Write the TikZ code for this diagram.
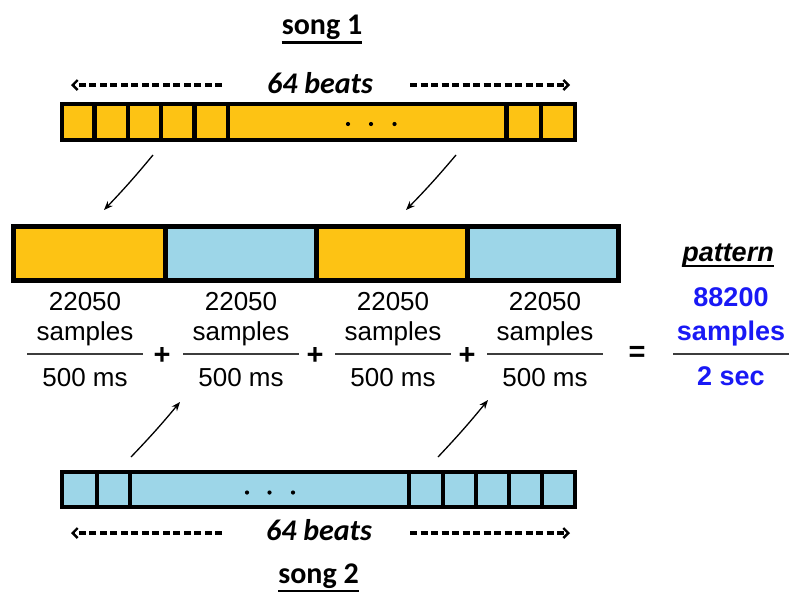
\documentclass[tikz,border=0pt]{standalone}
\usepackage{fontspec}
\setmainfont{Liberation Sans}
\newfontfamily\calib{Carlito}
\usetikzlibrary{arrows.meta}
\definecolor{gold}{RGB}{253,195,20}
\definecolor{sky}{RGB}{157,214,232}
\definecolor{pblue}{RGB}{25,25,245}
\definecolor{fracline}{RGB}{60,60,60}
\begin{document}
\begin{tikzpicture}[x=1pt,y=-1pt,
  barline/.style={draw=black,line width=4.5pt},
  midline/.style={draw=black,line width=5pt},
  songlabel/.style={inner sep=0pt,anchor=base,font=\calib\bfseries\fontsize{30}{34}\selectfont},
  beatlabel/.style={inner sep=0pt,anchor=base,font=\calib\bfseries\itshape\fontsize{30}{34}\selectfont},
  span/.style={line width=3.4pt,dash pattern=on 7pt off 3.5pt,-{Straight Barb[length=5pt,width=10pt,line width=2.4pt]}},
  num/.style={inner sep=0pt,anchor=base,font=\fontsize{26}{30}\selectfont},
  bnum/.style={inner sep=0pt,anchor=base,text=pblue,font=\bfseries\fontsize{27}{30}\selectfont},
  fracbar/.style={draw=fracline,line width=2pt},
  op/.style={inner sep=0pt,font=\bfseries\fontsize{29}{32}\selectfont},
  link/.style={line width=1.3pt,-{Stealth[length=9pt,width=7pt]}},
  uline/.style={line width=2.4pt}]
\useasboundingbox (0,0) rectangle (789,592);

% ---- song 1 ----
\node[songlabel] (s1) at (322,34) {song 1};
\draw[uline] ([yshift=-8.5pt]s1.base west) -- ([yshift=-8.5pt]s1.base east);
\node[beatlabel] (b1) at (320,93) {64 beats};
\coordinate (b1l) at (71,85);
\coordinate (b1r) at (570,85);
\draw[span] (222,85) coordinate (b1lm) -- (b1l);
\draw[span] (410,85) coordinate (b1rm) -- (b1r);
\draw[barline,fill=gold] (62,104) rectangle (575,140);
\foreach \x in {94.5,128,161,194.5,228,506.5,541}
  \draw[barline] (\x,104) -- (\x,140);
\foreach \x in {348,371,394.5}
  \fill (\x,124) circle[radius=2.1pt];

% ---- pattern bar ----
\draw[midline,fill=gold] (13.5,226.5) rectangle (165,280.5);
\draw[midline,fill=sky] (165,226.5) rectangle (316,280.5);
\draw[midline,fill=gold] (316,226.5) rectangle (467,280.5);
\draw[midline,fill=sky] (467,226.5) rectangle (618.5,280.5);

% ---- fractions ----
\foreach \i/\x in {1/85,2/241,3/393,4/545}{
  \node[num] (n\i) at (\x,310.5) {22050};
  \node[num] (u\i) at (\x,340) {samples};
  \node[num] (d\i) at (\x,386.5) {500 ms};
  \draw[fracbar] (\x-58,354) -- (\x+58,354);
}
\node[op] (p1) at (162,356) {+};
\node[op] (p2) at (315,356) {+};
\node[op] (p3) at (467,356) {+};
\node[op] (eq) at (637,354) {=};

\node[inner sep=0pt,anchor=base,font=\bfseries\itshape\fontsize{27}{30}\selectfont] (pat) at (728,261.5) {pattern};
\draw[line width=2pt] ([yshift=-4pt]pat.base west) -- ([yshift=-4pt]pat.base east);
\node[bnum] (tot) at (731,306.5) {88200};
\node[bnum] (tots) at (731,340) {samples};
\node[bnum] (totd) at (731,385) {2 sec};
\draw[fracbar] (673,354) -- (789,354);

% ---- song 2 ----
\draw[barline,fill=sky] (62,472) rectangle (575,507);
\foreach \x in {97,130,409,443,476,509,542}
  \draw[barline] (\x,472) -- (\x,507);
\foreach \x in {247,269.5,293}
  \fill (\x,492.5) circle[radius=2.1pt];
\node[beatlabel] (b2) at (319,540) {64 beats};
\coordinate (b2l) at (71,533);
\coordinate (b2r) at (570,533);
\draw[span] (222,533) coordinate (b2lm) -- (b2l);
\draw[span] (410,533) coordinate (b2rm) -- (b2r);
\node[songlabel] (s2) at (318.5,583) {song 2};
\draw[uline] ([yshift=-8pt]s2.base west) -- ([yshift=-8pt]s2.base east);

% ---- arrows ----
\coordinate (t1a) at (153,155);
\coordinate (t1b) at (104,210);
\coordinate (t2a) at (456,155);
\coordinate (t2b) at (406,210);
\coordinate (q1a) at (131,457);
\coordinate (q1b) at (180,402);
\coordinate (q2a) at (438,457);
\coordinate (q2b) at (488,400);
\draw[link] (t1a) to[bend left=2] (t1b);
\draw[link] (t2a) to[bend left=2] (t2b);
\draw[link] (q1a) to[bend right=2] (q1b);
\draw[link] (q2a) to[bend right=2] (q2b);
\end{tikzpicture}
\end{document}
